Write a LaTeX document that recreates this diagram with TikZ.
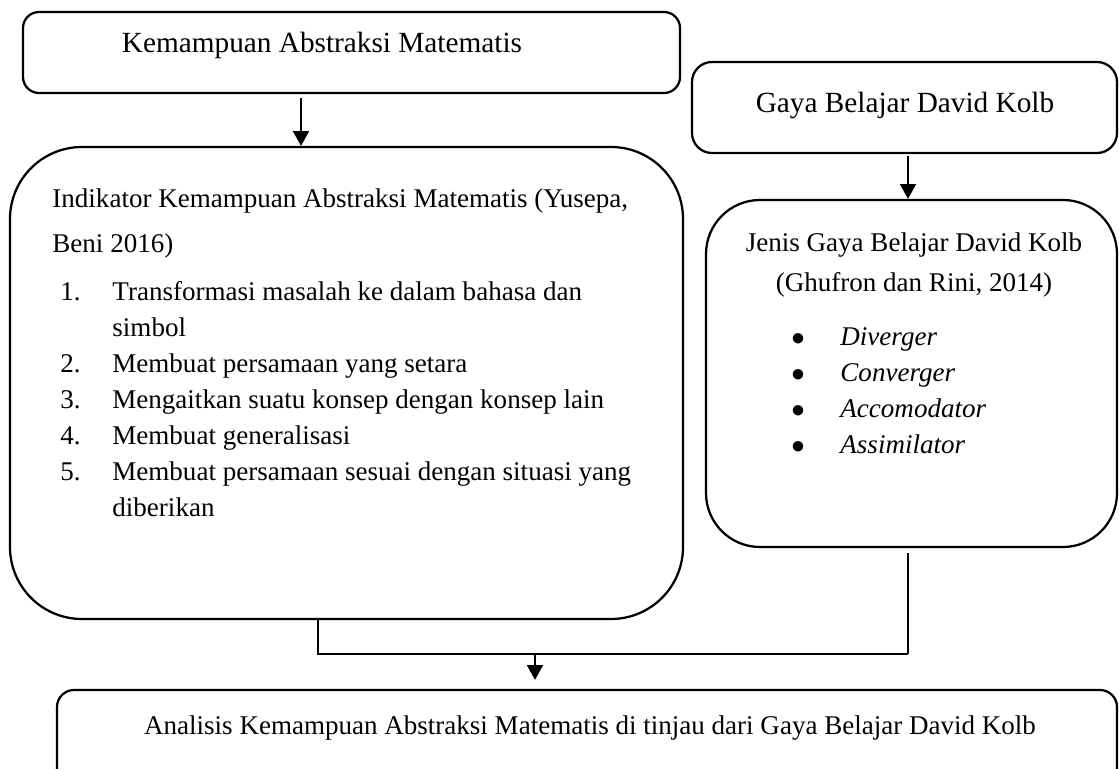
\documentclass[tikz,border=0pt]{standalone}
\usepackage{fontspec}
\setmainfont{Liberation Serif}
\usepackage{tikz}
\usetikzlibrary{arrows.meta, positioning}
\newlength{\pxl}
\setlength{\pxl}{0.444pt}

\begin{document}
\begin{tikzpicture}[
    x=0.444pt, y=-0.444pt, % coordinates in pixels of the page
    box/.style={draw, line width=1pt, inner sep=0pt},
    txt/.style={inner sep=0pt, font=\fontsize{12}{16}\selectfont},
    head/.style={inner sep=0pt, font=\fontsize{13}{16}\selectfont}, % top boxes
    line/.style={draw, line width=0.9pt, -{Triangle[width=7pt, length=6.5pt]}}, % arrow
    link/.style={draw, line width=0.5pt} % thin joining line
]
    \useasboundingbox (0,0) rectangle (1119,769);

    % Boxes
    \node [box, rounded corners=16*\pxl, minimum width=657*\pxl, minimum height=81*\pxl] (kemampuan) at (351.5,52.5) {};
    \node [box, rounded corners=72*\pxl, minimum width=673*\pxl, minimum height=472*\pxl] (indikator) at (346.5,383) {};
    \node [box, rounded corners=20*\pxl, minimum width=425*\pxl, minimum height=91*\pxl] (gaya) at (904.5,107.5) {};
    \node [box, rounded corners=54*\pxl, minimum width=411*\pxl, minimum height=347*\pxl] (jenis) at (911.5,373.5) {};
    \node [box, rounded corners=17*\pxl, minimum width=1060*\pxl, minimum height=110*\pxl] (analisis) at (587,745) {};

    % Texts
    \node [head, anchor=base] (kemampuantxt) at (322,53) {Kemampuan Abstraksi Matematis};
    \node [head, anchor=base] (gayatxt) at (905,113) {Gaya Belajar David Kolb};
    \node [txt, anchor=base west] (indikatortxt) at (52,207) {\begin{tabular}[t]{@{}p{60\pxl}@{}l@{}}
        \multicolumn{2}{@{}l@{}}{Indikator Kemampuan Abstraksi Matematis (Yusepa,}\\[4pt]
        \multicolumn{2}{@{}l@{}}{Beni 2016)}\\[5.3pt]
        \hspace*{8\pxl}1. & Transformasi masalah ke dalam bahasa dan\\
        & simbol\\
        \hspace*{8\pxl}2. & Membuat persamaan yang setara\\
        \hspace*{8\pxl}3. & Mengaitkan suatu konsep dengan konsep lain\\
        \hspace*{8\pxl}4. & Membuat generalisasi\\
        \hspace*{8\pxl}5. & Membuat persamaan sesuai dengan situasi yang\\
        & diberikan
    \end{tabular}};
    \node [txt, anchor=base] (jenistxt) at (914,251) {\begin{tabular}[t]{@{}c@{}}
        Jenis Gaya Belajar David Kolb\\[2.2pt]
        (Ghufron dan Rini, 2014)
    \end{tabular}};
    \node [txt, anchor=base west] (tipetxt) at (791,345) {\begin{tabular}[t]{@{}p{49\pxl}@{}l@{}}
        $\bullet$ & \textit{Diverger}\\
        $\bullet$ & \textit{Converger}\\
        $\bullet$ & \textit{Accomodator}\\
        $\bullet$ & \textit{Assimilator}
    \end{tabular}};
    \node [txt, anchor=base] (analisistxt) at (590,734) {Analisis Kemampuan Abstraksi Matematis di tinjau dari Gaya Belajar David Kolb};

    % Arrows
    \draw [line, shorten <=4*\pxl] (kemampuan.south -| 301,0) -- (indikator.north -| 301,0);
    \draw [line, shorten <=2*\pxl] (gaya.south -| 908,0) -- (jenis.north -| 908,0);

    % Joining lines to the last box
    \coordinate (merge) at (908,654);
    \coordinate (split) at (535,654);
    \draw [link] (indikator.south -| 318,0) |- (merge);
    \draw [link, shorten <=5*\pxl] (jenis.south -| merge) -- (merge);
    \draw [line, shorten >=9*\pxl] (split) -- (analisis.north -| split);
\end{tikzpicture}
\end{document}
